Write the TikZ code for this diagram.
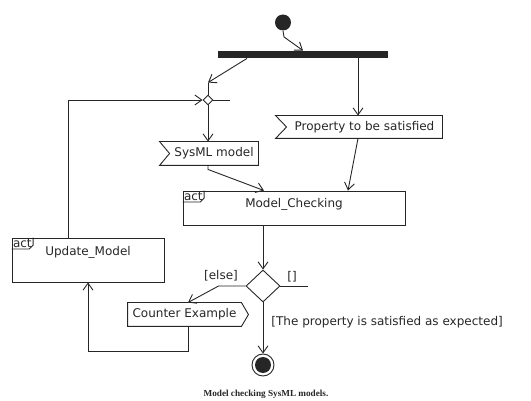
\documentclass[tikz,border=0pt]{standalone}
\usepackage{fontspec}
\setmainfont{DejaVu Sans}
\newfontfamily\capfont{Liberation Serif}
\usetikzlibrary{arrows.meta,shapes.geometric}

\begin{document}
\begin{tikzpicture}[x=1pt,y=-1pt,
  color=black!85, line width=0.9pt,
  every node/.style={font=\fontsize{12}{14}\selectfont},
  flow/.style={-{Straight Barb[length=7pt,width=10pt]}},
  actbox/.style={draw, rectangle, inner sep=0pt},
  pinbox/.style={rectangle, inner sep=0pt},
  acttab/.style={anchor=north west, inner sep=1pt},
  guard/.style={inner sep=0pt}
]
\useasboundingbox (0,0) rectangle (531,401);

% initial node and fork bar
\node[circle, fill, minimum size=16pt, inner sep=0pt] (start) at (283,22.5) {};
\node[rectangle, fill, minimum width=170pt, minimum height=7pt, inner sep=0pt] (bar) at (303,54.5) {};

% merge node
\node[diamond, draw, fill=white, minimum width=10pt, minimum height=10pt, inner sep=0pt] (merge) at (208,100) {};

% input pins
\node[pinbox, minimum width=88pt, minimum height=23pt] (sysml) at (214,153.5) {SysML model};
\draw ([xshift=-10pt]sysml.north west) -- (sysml.west) -- ([xshift=-10pt]sysml.south west)
  -- (sysml.south east) -- (sysml.north east) -- cycle;

\node[pinbox, minimum width=155pt, minimum height=22pt] (prop) at (364.5,127) {Property to be satisfied};
\draw ([xshift=-11pt]prop.north west) -- (prop.west) -- ([xshift=-11pt]prop.south west)
  -- (prop.south east) -- (prop.north east) -- cycle;

% actions
\node[actbox, minimum width=222pt, minimum height=34pt,
      label={[yshift=4pt]center:Model\_Checking}] (mc) at (294,208) {};
\node[acttab] (mctab) at (mc.north west) {act};
\draw (mctab.north east) -- ([yshift=4pt]mctab.south east) -- ([xshift=-4pt]mctab.south east) -- (mctab.south west);

\node[actbox, minimum width=152pt, minimum height=44pt,
      label={[yshift=8pt]center:Update\_Model}] (um) at (88,260) {};
\node[acttab] (umtab) at (um.north west) {act};
\draw (umtab.north east) -- ([yshift=4pt]umtab.south east) -- ([xshift=-4pt]umtab.south east) -- (umtab.south west);

% decision node
\node[diamond, draw, minimum width=34pt, minimum height=32pt, inner sep=0pt] (dec) at (263,286) {};

% output pin
\node[pinbox, minimum width=113pt, minimum height=23pt] (ce) at (184.5,314.5) {Counter Example};
\draw (ce.north west) -- (ce.north east) -- ([xshift=7pt]ce.east) -- (ce.south east)
  -- (ce.south west) -- cycle;

% final node
\node[circle, draw, fill=white, minimum size=22pt, inner sep=0pt] (final) at (263,365) {};
\fill (final.center) circle[radius=8pt];

% flows
\draw[flow] (start.south) -- ++(1,6) -- (bar.north);

\coordinate (b1) at ([xshift=-56pt]bar.south);
\coordinate (m1) at ([yshift=12pt]merge.north);
\draw[flow] (b1) -- (m1);
\draw (m1) -- (merge.north);

\coordinate (b2) at ([xshift=55pt]bar.south);
\draw[flow] (b2) -- (b2 |- prop.north);

\coordinate (u1) at ([xshift=-20pt]um.north);
\draw[flow] (u1) |- (merge.west);
\draw (merge.east) -- ++(17,0);

\draw[flow] (merge.south) -- (merge.south |- sysml.north);
\coordinate (s1) at (merge.south |- sysml.south);
\draw[flow] (s1) -- ++(0,4) -- ([xshift=-30pt]mc.north);
\draw[flow] (b2 |- prop.south) -- ([xshift=54pt]mc.north);

\draw[flow] (dec.north |- mc.south) -- (dec.north);
\draw (dec.east) -- ++(28,0);
\node[guard] (gempty) at (292,277) {[]};

\draw[flow] (dec.west) -- ++(-27,0) -- ([xshift=3.5pt]ce.north);
\node[guard] (gelse) at (221,276) {[else]};

\draw[flow] ([xshift=3.5pt]ce.south) -- ++(0,25) -| (um.south);

\draw[flow] (dec.south) -- (final.north);
\node[guard, anchor=west] (gsat) at (271,322) {[The property is satisfied as expected]};

% caption
\node[font=\capfont\bfseries\fontsize{9.2}{11}\selectfont] (cap) at (266,394) {Model checking SysML models.};
\end{tikzpicture}
\end{document}
